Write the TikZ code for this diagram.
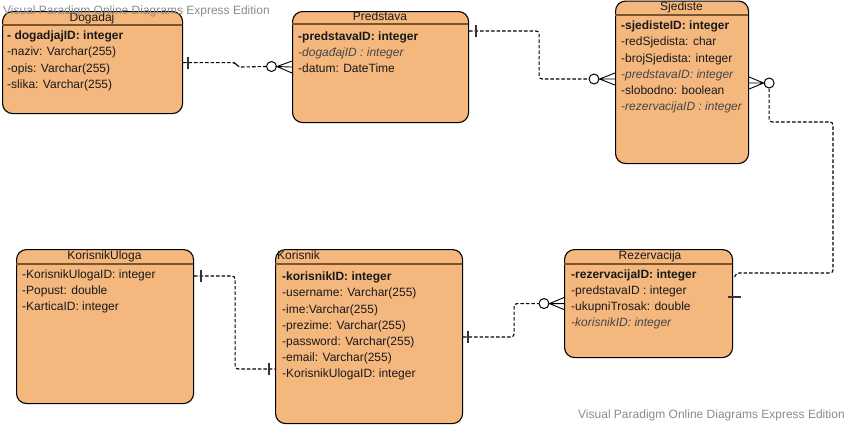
\documentclass[tikz,border=0pt]{standalone}
\usepackage{fontspec}
\setmainfont{Liberation Sans}
\usetikzlibrary{calc}
\definecolor{ent}{RGB}{244,183,126}
\definecolor{hdr}{RGB}{125,85,45}
\definecolor{wm}{RGB}{140,140,140}
\definecolor{txt}{RGB}{25,25,25}
\definecolor{ital}{RGB}{70,70,70}
\begin{document}
\begin{tikzpicture}[x=1pt,y=-1pt,
  entity/.style={draw=black, line width=1.1pt, fill=ent, rounded corners=10pt, inner sep=0pt, anchor=north west},
  row/.style={anchor=west, inner sep=0pt, text height=8.6pt, text depth=2.4pt, font=\fontsize{12}{14}\selectfont, text=txt},
  irow/.style={row, text=ital, font=\fontsize{12}{14}\selectfont\itshape},
  brow/.style={row, font=\fontsize{12}{14}\selectfont\bfseries},
  ttl/.style={inner sep=0pt, text height=8.6pt, text depth=2.4pt, font=\fontsize{12}{14}\selectfont, text=txt},
  hline/.style={draw=hdr, line width=1.2pt},
  conn/.style={draw=black, dash pattern=on 3.5pt off 2pt, line width=1.1pt, rounded corners=3pt},
  bar/.style={draw=black!80, line width=1.6pt},
  crow/.style={draw=black, line width=0.9pt},
  circ/.style={circle, draw=black, line width=1pt, fill=white, minimum size=10pt, inner sep=0pt},
  wmark/.style={inner sep=0pt, anchor=west, text=wm, font=\fontsize{12}{14}\selectfont}
]
\fill[white] (0,0) rectangle (850,426);
\useasboundingbox (0,0) rectangle (850,426);

% ---------- Entities ----------
\node[entity, minimum width=180pt, minimum height=102pt] (dog) at (2,11) {};
\draw[hline] (2,25) -- (182,25);
\node[ttl] (dogt) at (92,18) {Dogadaj};
\node[brow] (dog1) at (7,36.5) {- dogadjajID: integer};
\node[row] (dog2) at (7,52.7) {-naziv: Varchar(255)};
\node[row] (dog3) at (7,68.9) {-opis: Varchar(255)};
\node[row] (dog4) at (7,85.1) {-slika: Varchar(255)};

\node[entity, minimum width=176pt, minimum height=111pt] (pre) at (292,11) {};
\draw[hline] (292,24) -- (468,24);
\node[ttl] (pret) at (380,17) {Predstava};
\node[brow] (pre1) at (298,37) {-predstavaID: integer};
\node[irow] (pre2) at (298,53.2) {-događajID : integer};
\node[row] (pre3) at (298,69.4) {-datum: DateTime};

\node[entity, minimum width=133pt, minimum height=162.5pt] (sje) at (615,0.5) {};
\draw[hline] (615,15) -- (748,15);
\node[ttl] (sjet) at (681.5,7) {Sjediste};
\node[brow] (sje1) at (621,26.5) {-sjedisteID: integer};
\node[row] (sje2) at (621,42.7) {-redSjedista: char};
\node[row] (sje3) at (621,58.9) {-brojSjedista: integer};
\node[irow] (sje4) at (621,75.1) {-predstavaID: integer};
\node[row] (sje5) at (621,91.3) {-slobodno: boolean};
\node[irow] (sje6) at (621,107.5) {-rezervacijaID : integer};

\node[entity, minimum width=177pt, minimum height=154pt] (kul) at (16,249) {};
\draw[hline] (16,264) -- (193,264);
\node[ttl] (kult) at (104.5,256) {KorisnikUloga};
\node[row] (kul1) at (22,275) {-KorisnikUlogaID: integer};
\node[row] (kul2) at (22,291.2) {-Popust: double};
\node[row] (kul3) at (22,307.4) {-KarticaID: integer};

\node[entity, minimum width=187pt, minimum height=174pt] (kor) at (275,249) {};
\draw[hline] (275,264) -- (462,264);
\node[ttl, anchor=west] (kort) at (277,256) {Korisnik};
\node[brow] (kor1) at (282,277.5) {-korisnikID: integer};
\node[row] (kor2) at (282,293.7) {-username: Varchar(255)};
\node[row] (kor3) at (282,309.9) {-ime:Varchar(255)};
\node[row] (kor4) at (282,326.1) {-prezime: Varchar(255)};
\node[row] (kor5) at (282,342.3) {-password: Varchar(255)};
\node[row] (kor6) at (282,358.5) {-email: Varchar(255)};
\node[row] (kor7) at (282,374.7) {-KorisnikUlogaID: integer};

\node[entity, minimum width=168pt, minimum height=108pt] (rez) at (564,249) {};
\draw[hline] (564,264) -- (732,264);
\node[ttl] (rezt) at (650,256) {Rezervacija};
\node[brow] (rez1) at (571,275) {-rezervacijaID: integer};
\node[row] (rez2) at (571,291.2) {-predstavaID : integer};
\node[row] (rez3) at (571,307.4) {-ukupniTrosak: double};
\node[irow] (rez4) at (571,323.6) {-korisnikID: integer};

% ---------- Connectors ----------
% Dogadaj -- Predstava
\node[circ] (c1) at (271.5,66.5) {};
\draw[conn] (dog.east) -- ++(52,0) -- ++(3,4.5) -- (c1.west);
\draw[bar] ($(dog.east)+(5,-6)$) -- ++(0,12);
\draw[crow] ($(pre.west)+(0,-6)$) -- (c1.east) -- (pre.west) (c1.east) -- ($(pre.west)+(0,6)$);

% Predstava -- Sjediste
\coordinate (p2) at ($(pre.north east)+(0,20)$);
\coordinate (s2) at ($(sje.north west)+(0,78.5)$);
\node[circ] (c2) at ($(s2)+(-21,0)$) {};
\draw[conn] (p2) -- ++(70,0) |- (c2.west);
\draw[bar] ($(p2)+(7,-6)$) -- ++(0,12);
\draw[crow] ($(s2)+(0,-6)$) -- (c2.east) -- (s2) (c2.east) -- ($(s2)+(0,6)$);

% Sjediste -- Rezervacija
\coordinate (s3) at ($(sje.north east)+(0,82.5)$);
\node[circ] (c3) at ($(s3)+(20,0)$) {};
\coordinate (r3) at ($(rez.north east)+(1,30)$);
\draw[conn] (c3.south) |- (833,122) |- (736,273) -- (r3);
\draw[bar] ($(rez.north east)+(-5,48)$) -- ++(13,0);
\draw[crow] ($(s3)+(0,-6)$) -- (c3.west) -- (s3) (c3.west) -- ($(s3)+(0,6)$);

% KorisnikUloga -- Korisnik
\coordinate (k4a) at ($(kul.north east)+(0,27)$);
\coordinate (k4b) at ($(kor.north west)+(0,120)$);
\draw[conn] (k4a) -- ++(41,0) |- (k4b);
\draw[bar] ($(k4a)+(7,-6)$) -- ++(0,12);
\draw[bar] ($(k4b)+(-6,-6)$) -- ++(0,12);

% Korisnik -- Rezervacija
\coordinate (k5) at ($(kor.north east)+(0,88)$);
\node[circ] (c5) at ($(rez.west)+(-20,0)$) {};
\draw[conn] (k5) -- ++(51,0) |- (c5.west);
\draw[bar] ($(k5)+(5,-6)$) -- ++(0,12);
\draw[crow] ($(rez.west)+(0,-6)$) -- (c5.east) -- (rez.west) (c5.east) -- ($(rez.west)+(0,6)$);

% ---------- Watermarks ----------
\node[wmark] (wm1) at (3,11) {Visual Paradigm Online Diagrams Express Edition};
\node[wmark] (wm2) at (578,415) {Visual Paradigm Online Diagrams Express Edition};
\end{tikzpicture}
\end{document}
